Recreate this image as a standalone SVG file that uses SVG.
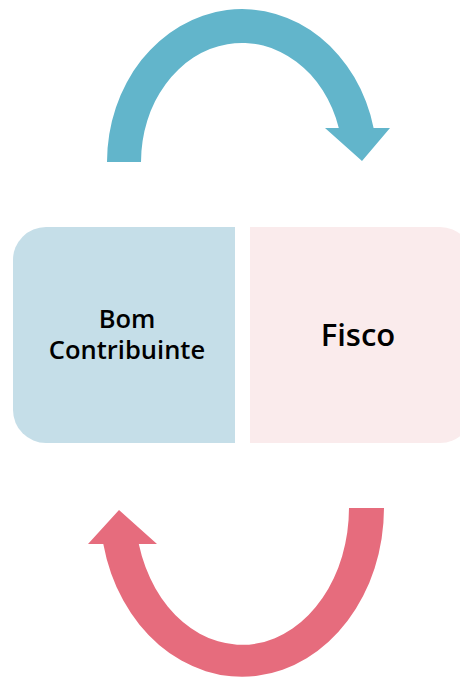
<svg xmlns="http://www.w3.org/2000/svg" width="460" height="677" viewBox="0 0 460 677">
<style>
.lbl{font-family:"Open Sans","Noto Sans",sans-serif;font-weight:600;fill:#000;text-anchor:middle}
</style>
<rect width="460" height="677" fill="#fff"/>
<g id="connectors">
<path id="arrow-top" fill="#62B5CB" d="M107,162 A135,153 0 0 1 373.6,128 L390,128 L362,161 L325,128 L338.8,128 A101,119 0 0 0 141,162 Z"/>
<path id="arrow-bottom" fill="#E66C7D" d="M384,508 A142,169 0 0 1 103.3,544 L88,544 L119,510 L157,544 L138.8,544 A107,137 0 0 0 349,508 Z"/>
</g>
<g id="node-contribuinte">
<path fill="#C5DEE8" d="M46,227 H235 V443 H46 A33,33 0 0 1 13,410 V260 A33,33 0 0 1 46,227 Z"/>
<text class="lbl" x="127" y="328" font-size="25.5">Bom</text>
<text class="lbl" x="127" y="359" font-size="25.5">Contribuinte</text>
</g>
<g id="node-fisco">
<path fill="#FAEBEC" d="M250,227 H440 A33,33 0 0 1 473,260 V410 A33,33 0 0 1 440,443 H250 Z"/>
<text class="lbl" x="358" y="346" font-size="31">Fisco</text>
</g>
</svg>
